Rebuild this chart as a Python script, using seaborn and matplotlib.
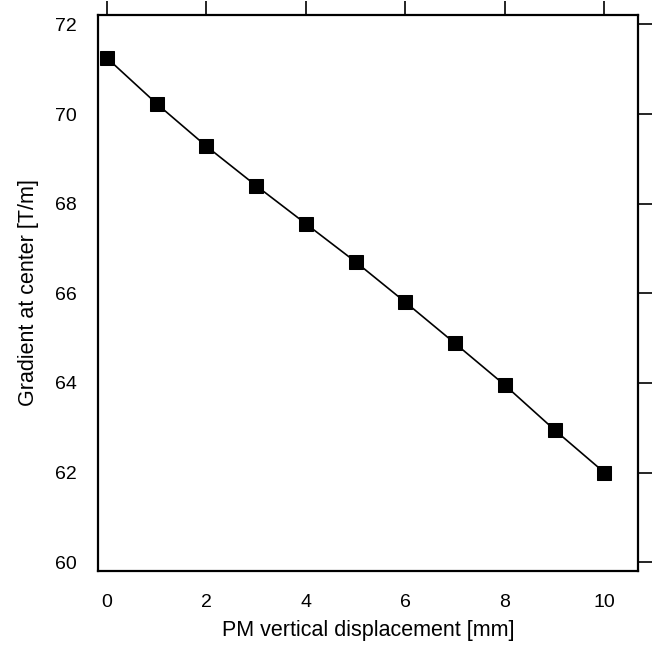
import matplotlib
matplotlib.use("Agg")
import matplotlib.pyplot as plt
import seaborn as sns
import pandas as pd

displacement = [0, 1, 2, 3, 4, 5, 6, 7, 8, 9, 10]
gradient = [71.25, 70.23, 69.28, 68.40, 67.55, 66.70, 65.80, 64.88, 63.95, 62.95, 62.00]
x_ticks = [0, 2, 4, 6, 8, 10]
y_ticks = [60, 62, 64, 66, 68, 70, 72]

sns.set_style("white")
plt.rcParams['font.family'] = ['Liberation Sans', 'DejaVu Sans']
plt.rcParams['text.color'] = 'black'
plt.rcParams['axes.labelcolor'] = 'black'

df = pd.DataFrame({'disp': displacement, 'grad': gradient})

fig = plt.figure(figsize=(6.56, 6.46), dpi=100)
ax = fig.add_axes([0.1494, 0.1166, 0.9721 - 0.1494, 0.9768 - 0.1166])
sns.lineplot(data=df, x='disp', y='grad', ax=ax, color='black', linewidth=1.2,
             marker='s', markersize=10, markeredgecolor='black', markerfacecolor='black')

ax.set_xlim(-0.18, 10.67)
ax.set_ylim(59.81, 72.21)
ax.set_xticks(x_ticks)
ax.set_yticks(y_ticks)
ax.tick_params(direction='out', length=10, width=1.2, top=True, right=True,
               labeltop=False, labelright=False, labelsize=14, pad=5, colors='black')
ax.tick_params(axis='x', pad=7)
for s in ax.spines.values():
    s.set_linewidth(1.6)
    s.set_color('black')
ax.set_xlabel('PM vertical displacement [mm]', fontsize=15.5, labelpad=6)
ax.set_ylabel('Gradient at center [T/m]', fontsize=15.5, labelpad=12)

fig.savefig('out.png', dpi=100)
plt.close(fig)
